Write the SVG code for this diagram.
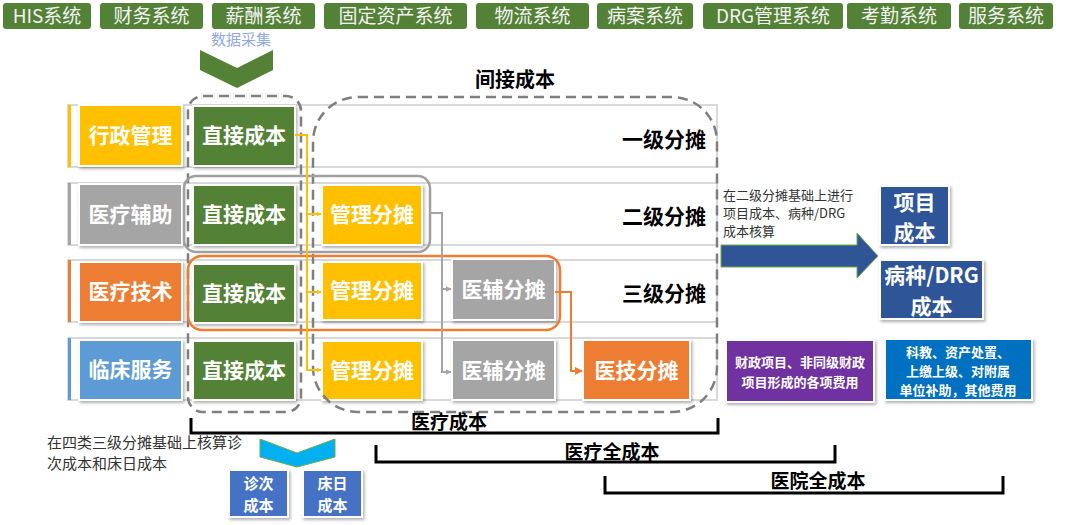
<svg xmlns="http://www.w3.org/2000/svg" width="1080" height="525" viewBox="0 0 1080 525">
<defs>
<filter id="sh" x="-10%" y="-10%" width="130%" height="130%">
<feDropShadow dx="1.5" dy="2" stdDeviation="1.5" flood-color="#000" flood-opacity="0.3"/>
</filter>
<marker id="ay" viewBox="0 0 10 10" refX="9" refY="5" markerWidth="5" markerHeight="5" orient="auto" markerUnits="userSpaceOnUse"><path d="M0,0 L10,5 L0,10 z" fill="#FFC000"/></marker>
<marker id="ag" viewBox="0 0 10 10" refX="9" refY="5" markerWidth="6" markerHeight="6" orient="auto" markerUnits="userSpaceOnUse"><path d="M0,0 L10,5 L0,10 z" fill="#A5A5A5"/></marker>
<marker id="ao" viewBox="0 0 10 10" refX="9" refY="5" markerWidth="8" markerHeight="8" orient="auto" markerUnits="userSpaceOnUse"><path d="M0,0 L10,5 L0,10 z" fill="#ED7D31"/></marker>
</defs>
<style>
text{font-family:"Noto Sans CJK SC","Liberation Sans",sans-serif}
.sys rect{fill:#538135}
.sys text{fill:#F2F2F2;font-size:19px;text-anchor:middle}
.band{fill:#fff;stroke:#D9D9D9;stroke-width:2}
.box{stroke:#fff;stroke-width:2;filter:url(#sh)}
.bt{fill:#fff;font-weight:bold;font-size:21px;text-anchor:middle}
.bs{fill:#fff;font-weight:bold;font-size:15px;text-anchor:middle}
.lvl{fill:#000;font-weight:bold;font-size:21px;text-anchor:end}
.dash{fill:none;stroke:#7F7F7F;stroke-width:2.5;stroke-dasharray:10 6}
.brk{fill:none;stroke:#000;stroke-width:3}
.bl{fill:#000;font-weight:bold;font-size:19px;text-anchor:middle}
.note{fill:#333;font-size:13px}
.st{fill:#fff;font-weight:bold;font-size:13px;text-anchor:middle}
</style>

<g id="systems" class="sys">
<rect x="3" y="3" width="88" height="26" rx="3"/><text x="47" y="23">HIS系统</text>
<rect x="100" y="3" width="103" height="26" rx="3"/><text x="151.5" y="23">财务系统</text>
<rect x="212" y="3" width="103" height="26" rx="3"/><text x="263.5" y="23">薪酬系统</text>
<rect x="324" y="3" width="143" height="26" rx="3"/><text x="395.5" y="23">固定资产系统</text>
<rect x="476" y="3" width="113" height="26" rx="3"/><text x="532.5" y="23">物流系统</text>
<rect x="597" y="3" width="96" height="26" rx="3"/><text x="645" y="23">病案系统</text>
<rect x="703" y="3" width="140" height="26" rx="3"/><text x="773" y="23">DRG管理系统</text>
<rect x="847" y="3" width="104" height="26" rx="3"/><text x="899" y="23">考勤系统</text>
<rect x="959" y="3" width="94" height="26" rx="3"/><text x="1006" y="23">服务系统</text>
</g>

<g id="collect">
<text x="241" y="45" font-size="15" fill="#8FAADC" text-anchor="middle">数据采集</text>
<polygon points="200,50 237,68 273,50 273,70 237,88 200,70" fill="#538135"/>
</g>

<text id="indirect-label" x="515" y="87" font-size="20" font-weight="bold" fill="#000" text-anchor="middle">间接成本</text>

<g id="bands">
<rect class="band" x="68" y="105" width="649" height="62"/>
<rect class="band" x="68" y="183" width="649" height="62"/>
<rect class="band" x="68" y="260" width="649" height="62"/>
<rect class="band" x="68" y="338" width="649" height="62"/>
<rect x="68" y="105" width="3" height="62" fill="#FFC000"/>
<rect x="68" y="183" width="3" height="62" fill="#A5A5A5"/>
<rect x="68" y="260" width="3" height="62" fill="#ED7D31"/>
<rect x="68" y="338" width="3" height="62" fill="#5B9BD5"/>
</g>

<g id="row-labels">
<rect class="box" x="79" y="105" width="103" height="61" fill="#FFC000"/><text class="bt" x="130.5" y="143">行政管理</text>
<rect class="box" x="79" y="184" width="103" height="61" fill="#A5A5A5"/><text class="bt" x="130.5" y="222">医疗辅助</text>
<rect class="box" x="79" y="262" width="103" height="60" fill="#ED7D31"/><text class="bt" x="130.5" y="299">医疗技术</text>
<rect class="box" x="79" y="340" width="103" height="60" fill="#5B9BD5"/><text class="bt" x="130.5" y="377">临床服务</text>
</g>

<g id="levels">
<text class="lvl" x="706" y="147">一级分摊</text>
<text class="lvl" x="706" y="224">二级分摊</text>
<text class="lvl" x="706" y="301">三级分摊</text>
</g>

<g id="direct">
<rect class="box" x="193" y="106" width="102" height="60" fill="#538135"/><text class="bt" x="244" y="143">直接成本</text>
<rect class="box" x="193" y="185" width="102" height="60" fill="#538135"/><text class="bt" x="244" y="222">直接成本</text>
<rect class="box" x="193" y="264" width="102" height="59" fill="#538135"/><text class="bt" x="244" y="301">直接成本</text>
<rect class="box" x="193" y="341" width="102" height="59" fill="#538135"/><text class="bt" x="244" y="378">直接成本</text>
</g>

<g id="mgmt">
<rect class="box" x="322" y="185" width="100" height="60" fill="#FFC000"/><text class="bt" x="372" y="222">管理分摊</text>
<rect class="box" x="322" y="262" width="100" height="58" fill="#FFC000"/><text class="bt" x="372" y="298">管理分摊</text>
<rect class="box" x="322" y="341" width="100" height="59" fill="#FFC000"/><text class="bt" x="372" y="378">管理分摊</text>
</g>

<g id="aux">
<rect class="box" x="452" y="259" width="103" height="61" fill="#A5A5A5"/><text class="bt" x="503.5" y="297">医辅分摊</text>
<rect class="box" x="452" y="340" width="103" height="60" fill="#A5A5A5"/><text class="bt" x="503.5" y="378">医辅分摊</text>
</g>

<g id="tech">
<rect class="box" x="583" y="340" width="107" height="60" fill="#ED7D31"/><text class="bt" x="636.5" y="378">医技分摊</text>
</g>

<g id="groups">
<rect class="dash" x="188" y="96" width="113" height="316" rx="15"/>
<rect class="dash" x="313" y="97" width="404" height="315" rx="45"/>
<rect x="184" y="176" width="246" height="76" rx="12" fill="none" stroke="#A0A0A0" stroke-width="2.5"/>
<rect x="188" y="256" width="372" height="74" rx="14" fill="none" stroke="#ED7D31" stroke-width="2.5"/>
</g>

<g id="connectors" fill="none" stroke-width="2">
<path d="M295,135 H307 V370 H321" stroke="#FFC000" marker-end="url(#ay)"/>
<path d="M307,214 H321" stroke="#FFC000" marker-end="url(#ay)"/>
<path d="M307,292 H321" stroke="#FFC000" marker-end="url(#ay)"/>
<path d="M430,213 H442 V372 H451" stroke="#A5A5A5" marker-end="url(#ag)"/>
<path d="M442,289 H451" stroke="#A5A5A5" marker-end="url(#ag)"/>
<path d="M555,292 H571 V371 H582" stroke="#ED7D31" marker-end="url(#ao)"/>
</g>

<g id="drg-note">
<text class="note" x="723" y="200">在二级分摊基础上进行</text>
<text class="note" x="723" y="218">项目成本、病种/DRG</text>
<text class="note" x="723" y="236">成本核算</text>
<polygon points="721,245 857,245 857,233 878,256 857,278 857,267 721,267" fill="#2F5597" stroke="#70AD47" stroke-width="1"/>
</g>

<g id="project-cost">
<rect class="box" x="880" y="186" width="69" height="59" fill="#2F5597"/>
<text class="bt" x="914.5" y="210">项目</text>
<text class="bt" x="914.5" y="240">成本</text>
</g>
<g id="drg-cost">
<rect class="box" x="880" y="260" width="103" height="59" fill="#2F5597"/>
<text class="bt" x="931.5" y="283">病种/DRG</text>
<text class="bt" x="931.5" y="314">成本</text>
</g>

<g id="fiscal">
<rect class="box" x="726" y="340" width="148" height="62" fill="#7030A0"/>
<text class="st" x="800" y="367">财政项目、非同级财政</text>
<text class="st" x="800" y="387">项目形成的各项费用</text>
</g>
<g id="other">
<rect class="box" x="885" y="339" width="147" height="61" fill="#0070C0"/>
<text class="st" x="958" y="357">科教、资产处置、</text>
<text class="st" x="958" y="376">上缴上级、对附属</text>
<text class="st" x="958" y="395">单位补助，其他费用</text>
</g>

<g id="brackets">
<path class="brk" d="M191,418 V433 H718 V418"/>
<text class="bl" x="449" y="429">医疗成本</text>
<path class="brk" d="M376,445 V462 H835 V445"/>
<text class="bl" x="612" y="459">医疗全成本</text>
<path class="brk" d="M605,476 V493 H1003 V476"/>
<text class="bl" x="818" y="488">医院全成本</text>
</g>

<g id="visit-note">
<text x="47" y="448" font-size="15" fill="#333">在四类三级分摊基础上核算诊</text>
<text x="47" y="469" font-size="15" fill="#333">次成本和床日成本</text>
<polygon points="260,439 297,453 335,439 335,457 297,467 260,457" fill="#00B0F0" stroke="#70AD47" stroke-width="1"/>
</g>
<g id="visit-cost">
<rect class="box" x="229" y="470" width="59" height="47" fill="#4472C4"/>
<text class="bs" x="258.5" y="489">诊次</text>
<text class="bs" x="258.5" y="511">成本</text>
</g>
<g id="bed-cost">
<rect class="box" x="303" y="470" width="59" height="47" fill="#4472C4"/>
<text class="bs" x="332.5" y="489">床日</text>
<text class="bs" x="332.5" y="511">成本</text>
</g>
</svg>
